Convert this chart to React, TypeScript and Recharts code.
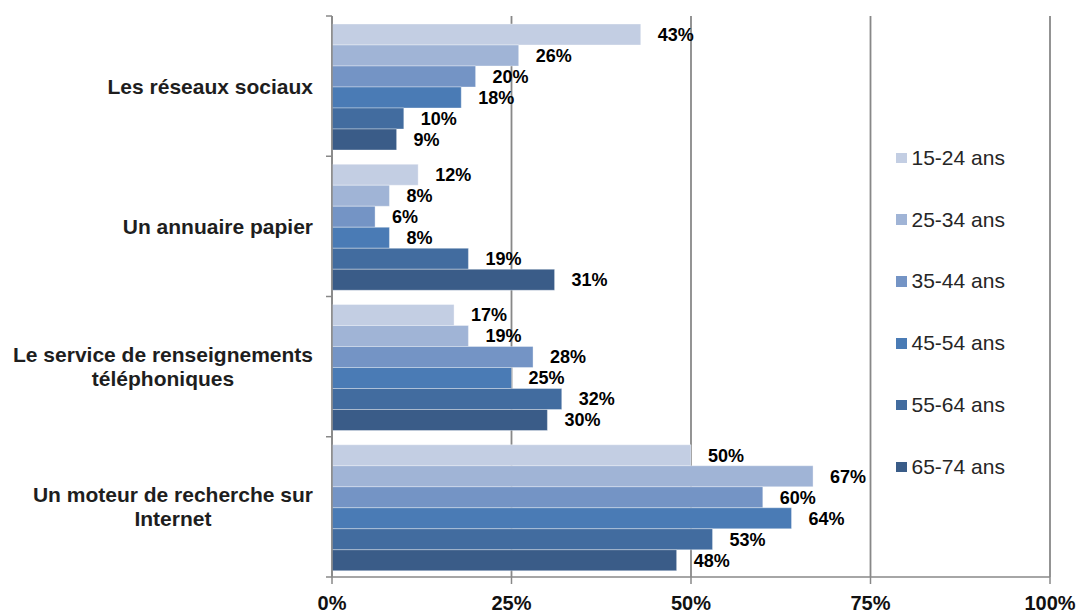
import React from 'react';
import { BarChart, Bar, XAxis, YAxis, CartesianGrid, Legend, LabelList } from 'recharts';

const categories = [
  'Les réseaux sociaux',
  'Un annuaire papier',
  'Le service de renseignements téléphoniques',
  'Un moteur de recherche sur Internet',
];
const categoryLines = [
  ['Les réseaux sociaux'],
  ['Un annuaire papier'],
  ['Le service de renseignements', 'téléphoniques'],
  ['Un moteur de recherche sur', 'Internet'],
];
const seriesNames = ['15-24 ans', '25-34 ans', '35-44 ans', '45-54 ans', '55-64 ans', '65-74 ans'];
const s15_24 = [43, 12, 17, 50];
const s25_34 = [26, 8, 19, 67];
const s35_44 = [20, 6, 28, 60];
const s45_54 = [18, 8, 25, 64];
const s55_64 = [10, 19, 32, 53];
const s65_74 = [9, 31, 30, 48];
const xTicks = [0, 25, 50, 75, 100];

const seriesValues = [s15_24, s25_34, s35_44, s45_54, s55_64, s65_74];
const seriesKeys = ['a', 'b', 'c', 'd', 'e', 'f'];
const colors = ['#C3CEE3', '#A0B4D6', '#7494C5', '#4A7BB5', '#426C9F', '#3A5C88'];

const data = categories.map((name, i) => {
  const row: Record<string, any> = { name, idx: i };
  seriesKeys.forEach((k, j) => {
    row[k] = seriesValues[j][i];
  });
  return row;
});

const W = 1078;
const H = 611;
const TOP = 16;
const X_AXIS_H = 34;
const Y_AXIS_W = 332;
const RIGHT = 28;
const HALF_BAND = (H - TOP - X_AXIS_H) / categories.length / 2;
const FONT = '"Liberation Sans", Arial, sans-serif';
const AXIS_COLOR = '#888888';

let measureCtx: CanvasRenderingContext2D | null = null;
function measure(text: string, font: string) {
  if (!measureCtx) {
    const c = document.createElement('canvas');
    measureCtx = c.getContext('2d');
  }
  if (!measureCtx) return text.length * 11;
  measureCtx.font = font;
  return measureCtx.measureText(text).width;
}

const YTick = (props: any) => {
  const { y, index } = props;
  const lines = categoryLines[index] || [props.payload.value];
  const right = Y_AXIS_W - 19;
  const lh = 24;
  const startY = y - ((lines.length - 1) * lh) / 2;
  const font = `bold 21px ${FONT}`;
  const w0 = measure(lines[0], font);
  const center = right - w0 / 2;
  return (
    <g>
      <line x1={Y_AXIS_W - 6} x2={Y_AXIS_W} y1={y - HALF_BAND} y2={y - HALF_BAND} stroke={AXIS_COLOR} strokeWidth={1.5} />
      {index === categories.length - 1 && (
        <line x1={Y_AXIS_W - 6} x2={Y_AXIS_W} y1={y + HALF_BAND} y2={y + HALF_BAND} stroke={AXIS_COLOR} strokeWidth={1.5} />
      )}
      {lines.map((ln: string, i: number) => (
        <text
          key={i}
          x={lines.length > 1 ? center : right}
          y={startY + i * lh}
          dy="0.36em"
          textAnchor={lines.length > 1 ? 'middle' : 'end'}
          fontFamily={FONT}
          fontWeight="bold"
          fontSize={21}
          fill="#1e1e1e"
        >
          {ln}
        </text>
      ))}
    </g>
  );
};

const LegendContent = () => (
  <div style={{ fontFamily: FONT, fontSize: 21, color: '#262626' }}>
    {seriesNames.map((n, i) => (
      <div key={n} style={{ height: 61.8, display: 'flex', alignItems: 'center' }}>
        <span style={{ display: 'inline-block', width: 10.5, height: 10.5, background: colors[i], marginLeft: 3, marginRight: 5 }} />
        <span>{n}</span>
      </div>
    ))}
  </div>
);

export default function App() {
  return (
    <div style={{ position: 'absolute', left: 0, top: 0, width: W, height: H, background: '#fff' }}>
      <BarChart
        width={W}
        height={H}
        data={data}
        layout="vertical"
        margin={{ top: TOP, right: RIGHT, bottom: 0, left: 0 }}
        barCategoryGap={8}
        barGap={0}
      >
        <CartesianGrid horizontal={false} stroke={AXIS_COLOR} strokeWidth={1.8} strokeDasharray="" />
        <XAxis
          type="number"
          domain={[0, 100]}
          ticks={xTicks}
          interval={0}
          height={X_AXIS_H}
          tickFormatter={(v: number) => `${v}%`}
          axisLine={{ stroke: AXIS_COLOR, strokeWidth: 1.5 }}
          tickLine={{ stroke: AXIS_COLOR, strokeWidth: 1.5 }}
          tickSize={7}
          tickMargin={12}
          tick={{ fontFamily: FONT, fontWeight: 'bold', fontSize: 20, fill: '#111' }}
        />
        <YAxis
          type="category"
          dataKey="name"
          width={Y_AXIS_W}
          axisLine={{ stroke: AXIS_COLOR, strokeWidth: 1.5 }}
          tickLine={false}
          tick={<YTick />}
          interval={0}
        />
        <Legend
          layout="vertical"
          align="center"
          verticalAlign="middle"
          wrapperStyle={{ left: 893, top: 127, width: 170 }}
          content={<LegendContent />}
        />
        {seriesKeys.map((k, j) => (
          <Bar
            key={k}
            dataKey={k}
            name={seriesNames[j]}
            fill={colors[j]}
            stroke="rgba(255,255,255,0.35)"
            strokeWidth={1}
            isAnimationActive={false}
          >
            <LabelList
              dataKey={k}
              position="right"
              offset={17}
              formatter={(v: any) => `${v}%`}
              style={{ fontFamily: FONT, fontWeight: 'bold', fontSize: 18, fill: '#000' }}
            />
          </Bar>
        ))}
      </BarChart>
    </div>
  );
}
